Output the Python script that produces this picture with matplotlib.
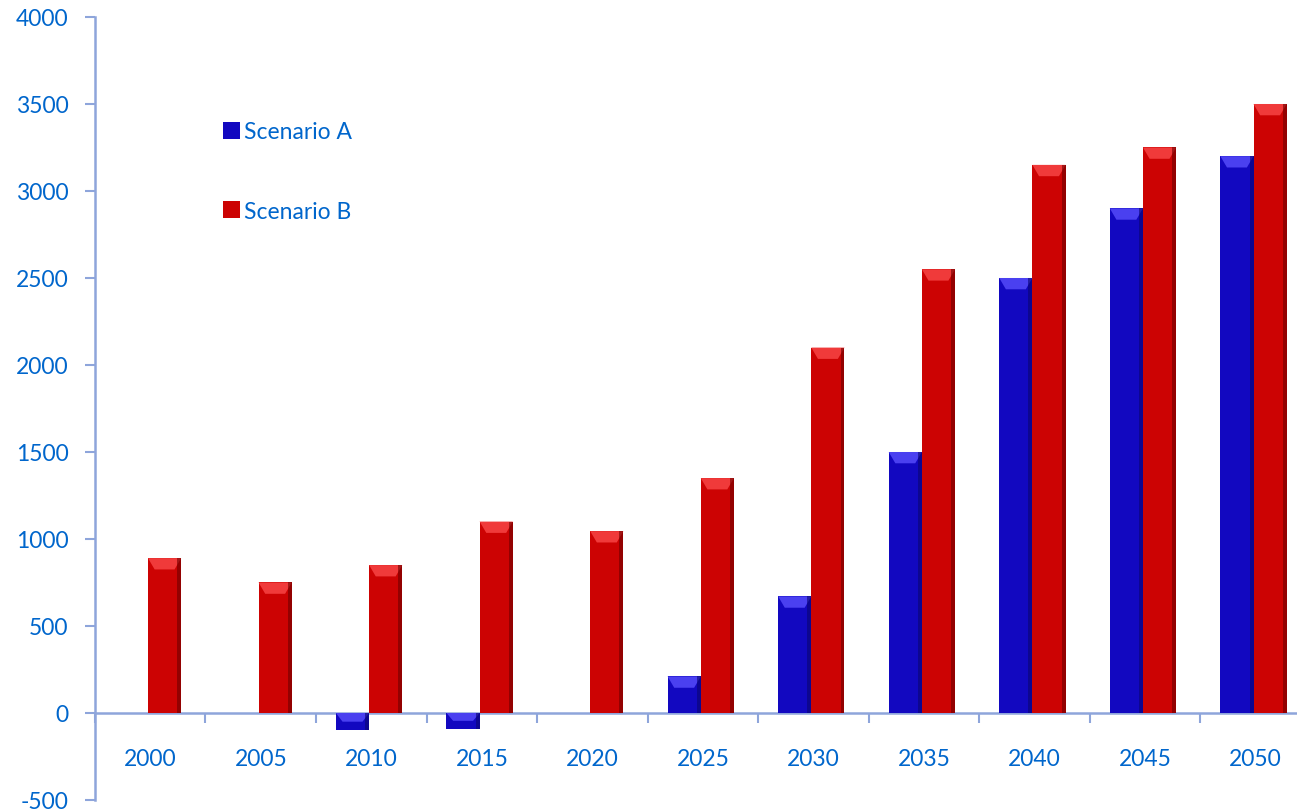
import numpy as np
import matplotlib
matplotlib.use("Agg")
import matplotlib.pyplot as plt
from matplotlib.patches import Polygon, Rectangle
from matplotlib.ticker import FixedLocator

years = ["2000", "2005", "2010", "2015", "2020", "2025",
         "2030", "2035", "2040", "2045", "2050"]
scenario_a = [0, 0, -100, -90, 0, 210, 670, 1500, 2500, 2900, 3200]
scenario_b = [890, 750, 850, 1100, 1045, 1350, 2100, 2550, 3150, 3250, 3500]
yticks = [-500, 0, 500, 1000, 1500, 2000, 2500, 3000, 3500, 4000]

axis_col = "#8EA5DB"
text_col = "#0066CC"
plt.rcParams['font.family'] = ['Lato', 'DejaVu Sans']

fig = plt.figure(figsize=(12.97, 8.12), dpi=100)
ax = fig.add_axes([0.0732, 0.01355, 0.9376, 0.9643])

x = np.arange(len(years))
w = 0.3


def bevel(ax, bars, light, dark):
    """Add a lighter top cap and a darker right edge to each bar."""
    for b in bars:
        bx, by = b.get_x(), b.get_y()
        bw, bh = b.get_width(), b.get_height()
        if bh == 0:
            continue
        top = max(by, by + bh)
        bot = min(by, by + bh)
        cap = min(abs(bh) * 0.5, 65)
        ax.add_patch(Polygon([(bx, top), (bx + bw, top),
                              (bx + bw * 0.8, top - cap), (bx + bw * 0.2, top - cap)],
                             closed=True, facecolor=light, edgecolor="none", zorder=3))
        ax.add_patch(Rectangle((bx + bw * 0.88, bot), bw * 0.12, top - bot,
                               facecolor=dark, edgecolor="none", alpha=0.6, zorder=3))


bars_a = ax.bar(x - w / 2 - 0.02, scenario_a, w, color="#1208C0", label="Scenario A", zorder=2)
bars_b = ax.bar(x + w / 2 - 0.02, scenario_b, w, color="#CC0303", label="Scenario B", zorder=2)
bevel(ax, bars_a, "#4A40F0", "#0A0570")
bevel(ax, bars_b, "#F03A3A", "#6E0000")

ax.set_xlim(-0.5, len(years) - 0.5)
ax.set_ylim(-500, 4000)
ax.set_yticks(yticks)
ax.set_yticklabels([str(v) for v in yticks])

ax.xaxis.set_major_locator(FixedLocator(np.arange(len(years) + 1) - 0.5))
ax.xaxis.set_minor_locator(FixedLocator(x))
ax.set_xticklabels([], minor=False)
ax.set_xticklabels(years, minor=True)
ax.tick_params(axis='x', which='major', direction='out', length=7, width=1.5, color=axis_col)
ax.tick_params(axis='x', which='minor', length=0, pad=25, labelsize=16.5, labelcolor=text_col)
ax.tick_params(axis='y', direction='out', length=7, width=1.5, color=axis_col,
               labelsize=16.5, labelcolor=text_col, pad=12)

for s in ["top", "right"]:
    ax.spines[s].set_visible(False)
ax.spines["bottom"].set_position(("data", 0))
for s in ["left", "bottom"]:
    ax.spines[s].set_color(axis_col)
    ax.spines[s].set_linewidth(1.8)
ax.spines["bottom"].set_zorder(1)

leg = ax.legend(loc="upper left", bbox_to_anchor=(0.088, 0.893), frameon=False,
                fontsize=16.5, labelspacing=2.55, handlelength=0.75, handleheight=0.75,
                handletextpad=0.2)
for t in leg.get_texts():
    t.set_color(text_col)

fig.savefig("out.png", dpi=100)
